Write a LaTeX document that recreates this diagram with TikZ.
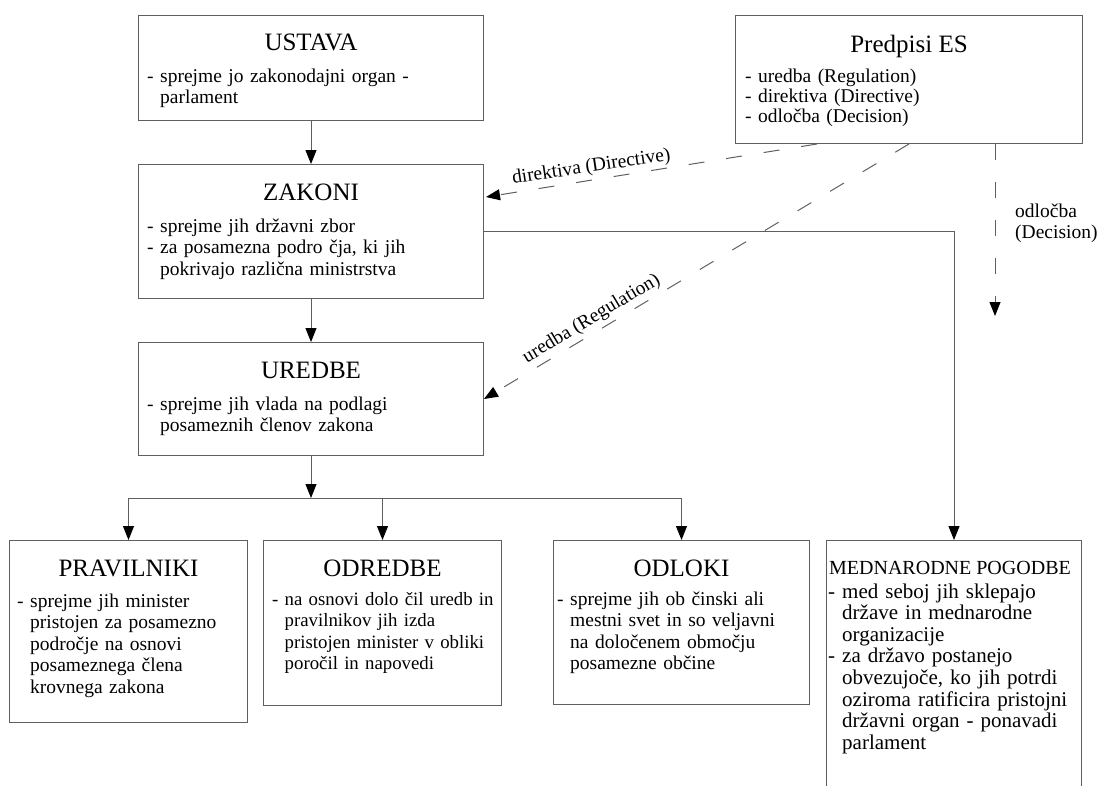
\documentclass[tikz,border=0pt]{standalone}
\usepackage{fontspec}
\setmainfont{Liberation Serif}
\usetikzlibrary{arrows.meta,calc,positioning}
\definecolor{linegray}{RGB}{95,95,95}
\newcommand{\cn}{\phantom{- }}

\begin{document}
\begin{tikzpicture}[x=1pt,y=-1pt,
  >={Triangle[length=14pt,width=11pt,color=black]},
  box/.style={draw=linegray,line width=1pt,anchor=north west,inner sep=0pt},
  ttl/.style={font=\fontsize{25}{30}\selectfont,anchor=base,inner sep=0pt},
  txt/.style={font=\fontsize{19.5}{21.5}\selectfont,anchor=base west,inner sep=0pt,
    align=left,text width=#1},
  line/.style={draw=linegray,line width=1pt},
  conn/.style={line,->},
  eu/.style={conn,dash pattern=on 16pt off 22pt},
  lbl/.style={font=\fontsize{19.5}{21.5}\selectfont,anchor=base,inner sep=0pt}]
  \path[use as bounding box,clip] (0,0) rectangle (1099,785);

  \node[box,minimum width=345pt,minimum height=105pt] (ustava) at (138,15) {};
  \node[ttl] (ustavaT) at ($(ustava.north)+(0,35)$) {USTAVA};
  \node[txt=330pt] (ustavaB) at ($(ustava.north west)+(9,67)$)
    {- sprejme jo zakonodajni organ -\\\cn parlament};

  \node[box,minimum width=347pt,minimum height=128pt] (predpisi) at (735,15) {};
  \node[ttl] (predpisiT) at ($(predpisi.north)+(0,37)$) {Predpisi ES};
  \node[txt=330pt] (predpisiB) at ($(predpisi.north west)+(10,67)$)
    {- uredba (Regulation)\\[-1.5pt]- direktiva (Directive)\\[-1.5pt]- odločba (Decision)};

  \node[box,minimum width=345pt,minimum height=134pt] (zakoni) at (138,164) {};
  \node[ttl] (zakoniT) at ($(zakoni.north)+(0,36)$) {ZAKONI};
  \node[txt=330pt] (zakoniB) at ($(zakoni.north west)+(9,68)$)
    {- sprejme jih državni zbor\\- za posamezna podro čja, ki jih\\\cn pokrivajo različna ministrstva};

  \node[box,minimum width=345pt,minimum height=113pt] (uredbe) at (138,342) {};
  \node[ttl] (uredbeT) at ($(uredbe.north)+(0,36)$) {UREDBE};
  \node[txt=330pt] (uredbeB) at ($(uredbe.north west)+(9,68)$)
    {- sprejme jih vlada na podlagi\\\cn posameznih členov zakona};

  \node[box,minimum width=238pt,minimum height=182pt] (pravilniki) at (9,540) {};
  \node[ttl] (pravilnikiT) at ($(pravilniki.north)+(0,36)$) {PRAVILNIKI};
  \node[txt=300pt] (pravilnikiB) at ($(pravilniki.north west)+(8,67)$)
    {- sprejme jih minister\\\cn pristojen za posamezno\\\cn področje na osnovi\\\cn posameznega člena\\\cn krovnega zakona};

  \node[box,minimum width=238pt,minimum height=165pt] (odredbe) at (263,540) {};
  \node[ttl] (odredbeT) at ($(odredbe.north)+(0,36)$) {ODREDBE};
  \node[txt=300pt,font=\fontsize{18.8}{21.5}\selectfont] (odredbeB) at ($(odredbe.north west)+(9,65)$)
    {- na osnovi dolo čil uredb in\\\cn pravilnikov jih izda\\\cn pristojen minister v obliki\\\cn poročil in napovedi};

  \node[box,minimum width=256pt,minimum height=164pt] (odloki) at (553,540) {};
  \node[ttl] (odlokiT) at ($(odloki.north)+(0,36)$) {ODLOKI};
  \node[txt=300pt] (odlokiB) at ($(odloki.north west)+(4,65)$)
    {- sprejme jih ob činski ali\\\cn mestni svet in so veljavni\\\cn na določenem območju\\\cn posamezne občine};

  \node[box,minimum width=255pt,minimum height=270pt] (mednarodne) at (826,540) {};
  \node[ttl,font=\fontsize{20}{24}\selectfont] (mednarodneT) at ($(mednarodne.north)+(-4,34)$) {MEDNARODNE POGODBE};
  \node[txt=300pt,font=\fontsize{21}{21.6}\selectfont] (mednarodneB) at ($(mednarodne.north west)+(2,58)$)
    {- med seboj jih sklepajo\\\cn države in mednarodne\\\cn organizacije\\- za državo postanejo\\\cn obvezujoče, ko jih potrdi\\\cn oziroma ratificira pristojni\\\cn državni organ - ponavadi\\\cn parlament};

  \coordinate (split) at ($(uredbe.south)+(0,42)$);
  \draw[conn] (ustava) -- (zakoni);
  \draw[conn] (zakoni) -- (uredbe);
  \draw[conn] (uredbe) -- (split);
  \draw[line] (pravilniki.north |- split) -- (odloki.north |- split);
  \draw[conn] (pravilniki.north |- split) -- (pravilniki.north);
  \draw[conn] (odredbe.north |- split) -- (odredbe.north);
  \draw[conn] (odloki.north |- split) -- (odloki.north);
  \draw[conn] (zakoni.east) -| (mednarodne.north);

  \coordinate (dirS) at ($(predpisi.south west)+(82,0)$);
  \coordinate (dirE) at ($(zakoni.north east)+(2,33)$);
  \coordinate (decS) at ($(predpisi.south east)+(-88,0)$);
  \coordinate (decE) at ($(decS)+(0,172)$);
  \draw[eu] (dirS) -- (dirE);
  \draw[eu] (predpisi.south) -- (uredbe.east);
  \draw[eu] (decS) -- (decE);
  \node[lbl,rotate=8.5] (dirL) at (592,172) {direktiva (Directive)};
  \node[lbl,rotate=31] (regL) at (594,323) {uredba (Regulation)};
  \node[lbl,anchor=base west,align=left,text width=90pt] (decL) at (1015,217) {odločba\\(Decision)};
\end{tikzpicture}
\end{document}
